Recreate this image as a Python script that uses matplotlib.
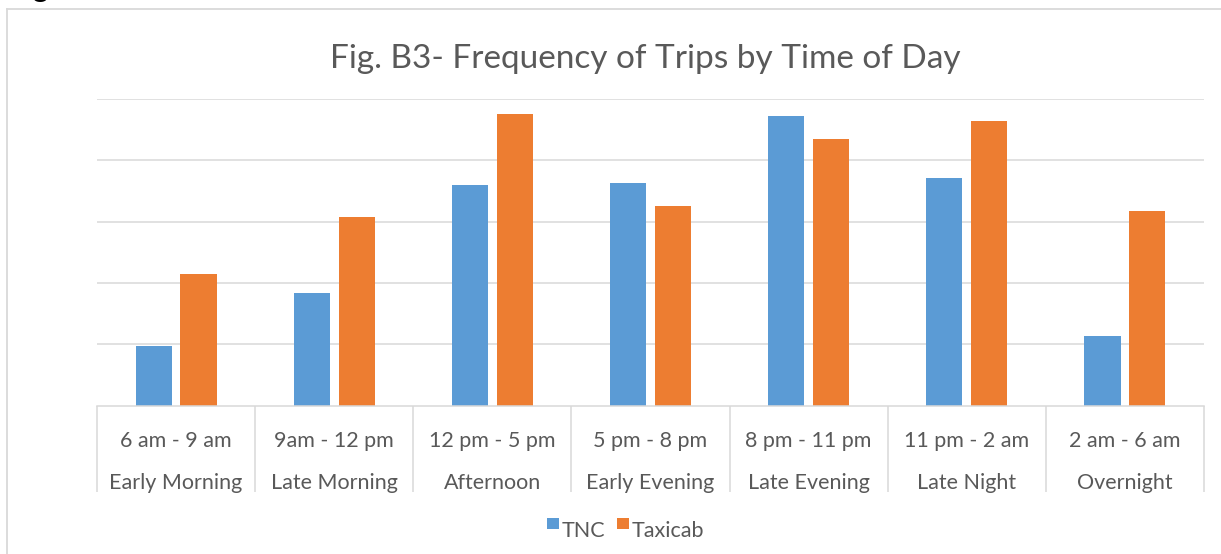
import matplotlib
matplotlib.use("Agg")
import matplotlib.pyplot as plt
from matplotlib.lines import Line2D
from matplotlib.patches import Rectangle
from matplotlib.transforms import blended_transform_factory
import numpy as np

# ---- data ----
time_ranges = ["6 am - 9 am", "9am - 12 pm", "12 pm - 5 pm", "5 pm - 8 pm",
               "8 pm - 11 pm", "11 pm - 2 am", "2 am - 6 am"]
periods = ["Early Morning", "Late Morning", "Afternoon", "Early Evening",
           "Late Evening", "Late Night", "Overnight"]
tnc = [0.97, 1.84, 3.59, 3.63, 4.73, 3.72, 1.14]
taxicab = [2.14, 3.07, 4.75, 3.25, 4.34, 4.64, 3.17]
series_names = ["TNC", "Taxicab"]
gridlines = [1, 2, 3, 4, 5]

BLUE = "#5B9BD5"
ORANGE = "#ED7D31"
GRID = "#D9D9D9"
TXT = "#595959"
FONT = ["Lato", "DejaVu Sans"]

W, H = 1221, 554
fig = plt.figure(figsize=(W / 100, H / 100), dpi=100)
fig.patch.set_facecolor("white")

def fx(px):
    return px / W

def fy(py):
    return 1 - py / H

ax = fig.add_axes([fx(97), fy(405.7), fx(1204) - fx(97), fy(99) - fy(405.7)])
ax.set_facecolor("none")

x = np.arange(len(periods))
bw = 0.228
off = 0.142
ax.bar(x - off, tnc, width=bw, color=BLUE, zorder=3)
ax.bar(x + off, taxicab, width=bw, color=ORANGE, zorder=3)

ax.set_xlim(-0.5, len(periods) - 0.5)
ax.set_ylim(0, 5)
for g in gridlines:
    ax.axhline(g, color=GRID, lw=1.1, zorder=1)
ax.axhline(0, color=GRID, lw=1.1, zorder=4, clip_on=False)

for s in ax.spines.values():
    s.set_visible(False)
ax.set_yticks([])
ax.set_xticks(np.arange(-0.5, len(periods)), minor=True)
ax.set_xticks([])
ax.tick_params(axis="x", which="minor", length=62, width=1.1, color=GRID,
               direction="out", labelbottom=False)

tr = blended_transform_factory(ax.transData, fig.transFigure)
for i in range(len(periods)):
    ax.text(i, fy(441), time_ranges[i], transform=tr, ha="center", va="center",
            fontsize=15.5, color=TXT, family=FONT)
    ax.text(i, fy(483), periods[i], transform=tr, ha="center", va="center",
            fontsize=15.5, color=TXT, family=FONT)

# title
fig.text(fx(645), fy(59), "Fig. B3- Frequency of Trips by Time of Day",
         ha="center", va="center", fontsize=24, color=TXT, family=FONT)

# legend
colors = [BLUE, ORANGE]
lx = [547, 617]
for name, c, px in zip(series_names, colors, lx):
    fig.add_artist(Rectangle((fx(px), fy(529)), fx(12), 11 / H,
                             transform=fig.transFigure, color=c, lw=0))
    fig.text(fx(px + 15), fy(537), name, ha="left", va="baseline",
             fontsize=15.5, color=TXT, family=FONT)

# outer frame
fig.add_artist(Line2D([fx(7), 1], [fy(9), fy(9)], transform=fig.transFigure,
                      color=GRID, lw=1.3))
fig.add_artist(Line2D([fx(7), fx(7)], [fy(9), 0], transform=fig.transFigure,
                      color=GRID, lw=1.3))

# cut-off heading glyph at top-left (as in the reference)
fig.text(fx(32), fy(-3), "g", ha="left", va="baseline", fontsize=21,
         fontweight="bold", color="black", family=FONT)

fig.savefig("out.png", dpi=100)
